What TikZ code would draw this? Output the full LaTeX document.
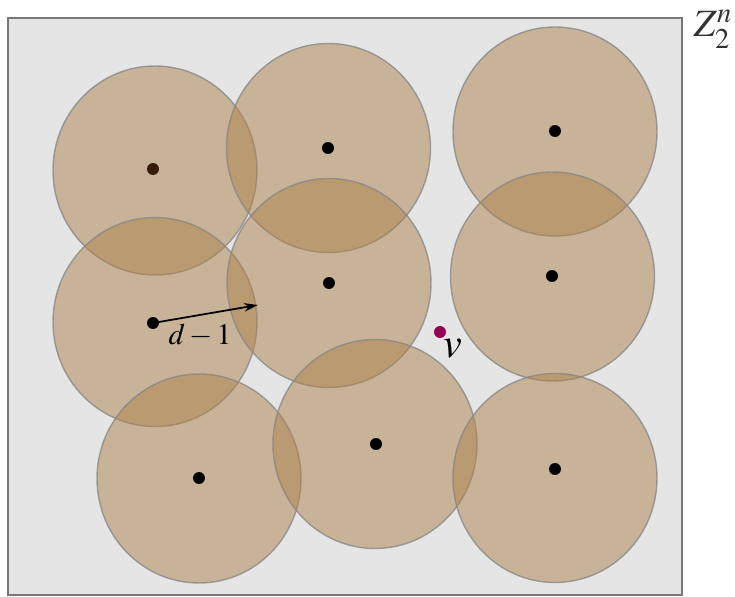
\documentclass[tikz,border=0pt]{standalone}
\usepackage{mathptmx}
\usepackage{tikz}
\usetikzlibrary{arrows.meta}
\definecolor{ground}{RGB}{229,229,229}
\definecolor{frame}{RGB}{120,120,120}
\definecolor{ball}{RGB}{172,130,76}
\definecolor{core}{RGB}{55,28,8}
\definecolor{word}{RGB}{150,0,85}

\begin{document}
\begin{tikzpicture}[x=0.02cm, y=-0.02cm,
  space/.style={draw=frame, line width=1.6pt, fill=ground},
  disk/.style={draw=frame!90, line width=0.8pt, fill=ball, fill opacity=0.5, draw opacity=0.75},
  dot/.style={circle, fill=black, inner sep=0pt, minimum size=6.8pt},
  arr/.style={-{Stealth[length=2.8mm, width=1.7mm]}, line width=1pt}]
\useasboundingbox (0,0) rectangle (735,597);
\draw[space] (8,18) rectangle (682,595);
\node[text=black!80] (space) at (713,29) {\fontsize{22}{26}\selectfont$Z_2^n$};
% balls of radius d-1
\foreach \p in {(155,170.5),(328.5,148),(555,131.5),(155,322),(329,283),(552.5,276.5),(199,478.5),(375,444),(555,478)}
  \draw[disk] \p ellipse[x radius=102, y radius=104.5];
% code words
\node[dot, fill=core] (c1) at (153,169) {};
\node[dot] (c2) at (328,148) {};
\node[dot] (c3) at (555,131) {};
\node[dot] (c4) at (153,323) {};
\node[dot] (c5) at (329,283) {};
\node[dot] (c6) at (552,276) {};
\node[dot] (c7) at (199,478) {};
\node[dot] (c8) at (376,444) {};
\node[dot] (c9) at (555,469) {};
\coordinate (rim) at (258,305);
\draw[arr] (c4.center) -- (rim);
\node (dist) at (200,335) {\fontsize{17}{20}\selectfont$d-1$};
\node[dot, fill=word] (v) at (440,332) {};
\node (vname) at (453,349) {\fontsize{24}{28}\selectfont$v$};
\end{tikzpicture}
\end{document}
